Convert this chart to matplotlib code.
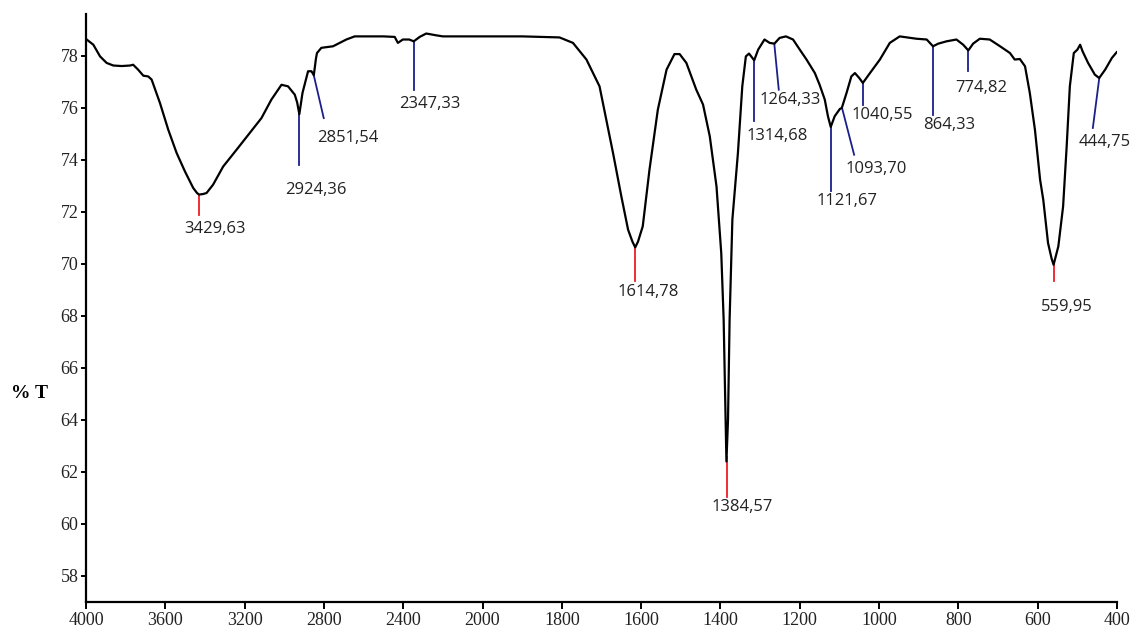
import numpy as np
import matplotlib
matplotlib.use("Agg")
import matplotlib.pyplot as plt

# IR spectrum (wavenumber cm-1, %T)
wavenumber = [4000, 3963, 3929, 3896, 3862, 3820, 3778, 3762, 3737, 3711, 3686, 3669,
              3627, 3585, 3543, 3501, 3459, 3440, 3430, 3410, 3392, 3359, 3308, 3241,
              3174, 3115, 3065, 3014, 2981, 2947, 2935, 2924, 2915, 2908, 2880, 2863,
              2851, 2840, 2835, 2813, 2754, 2687, 2645, 2600, 2500, 2443, 2427, 2402,
              2370, 2347, 2317, 2284, 2233, 2200, 2100, 2000, 1900, 1806, 1772, 1738,
              1705, 1688, 1671, 1650, 1633, 1622, 1615, 1608, 1596, 1579, 1558, 1536,
              1516, 1503, 1486, 1461, 1444, 1427, 1410, 1404, 1398, 1392, 1387, 1385,
              1381, 1377, 1370, 1356, 1345, 1336, 1328, 1315, 1305, 1289, 1276, 1264,
              1251, 1235, 1217, 1200, 1183, 1162, 1150, 1137, 1129, 1122, 1112, 1099,
              1094, 1082, 1070, 1061, 1050, 1041, 1023, 998, 973, 948, 906, 880, 864,
              851, 830, 805, 788, 775, 763, 746, 721, 695, 670, 658, 645, 632, 620, 607,
              594, 586, 574, 565, 560, 548, 536, 527, 519, 509, 500, 493, 487, 473, 456,
              445, 430, 413, 401]
transmittance = [78.64, 78.42, 77.97, 77.72, 77.62, 77.60, 77.62, 77.65, 77.46, 77.23, 77.20, 77.08,
                 76.18, 75.15, 74.26, 73.55, 72.91, 72.72, 72.66, 72.68, 72.72, 73.04, 73.74, 74.38,
                 75.03, 75.60, 76.31, 76.88, 76.82, 76.50, 76.20, 75.75, 76.20, 76.57, 77.40, 77.40,
                 77.25, 77.90, 78.10, 78.30, 78.36, 78.62, 78.74, 78.74, 78.74, 78.72, 78.49, 78.62,
                 78.62, 78.55, 78.72, 78.85, 78.78, 78.74, 78.74, 78.74, 78.74, 78.70, 78.49, 77.85,
                 76.82, 75.54, 74.26, 72.59, 71.31, 70.85, 70.63, 70.85, 71.44, 73.62, 75.92, 77.46,
                 78.06, 78.06, 77.72, 76.69, 76.12, 74.90, 72.97, 71.70, 70.40, 67.85, 64.00, 62.40,
                 64.00, 67.85, 71.70, 74.26, 76.82, 77.97, 78.08, 77.82, 78.23, 78.62, 78.49, 78.46,
                 78.68, 78.74, 78.62, 78.23, 77.85, 77.33, 76.88, 76.31, 75.67, 75.26, 75.67, 75.95,
                 75.99, 76.57, 77.20, 77.33, 77.14, 76.95, 77.33, 77.85, 78.49, 78.74, 78.65, 78.62, 78.36,
                 78.46, 78.55, 78.62, 78.42, 78.20, 78.46, 78.65, 78.62, 78.36, 78.10, 77.85, 77.87, 77.59, 76.57, 75.15,
                 73.23, 72.46, 70.80, 70.20, 69.96, 70.67, 72.20, 74.51, 76.82, 78.10, 78.23, 78.42, 78.17, 77.72, 77.27,
                 77.14, 77.46, 77.91, 78.13]

peak_wn = [3429.63, 2924.36, 2851.54, 2347.33, 1614.78, 1384.57, 1314.68, 1264.33,
           1121.67, 1093.70, 1040.55, 864.33, 774.82, 444.75, 559.95]
peak_labels = ["3429,63", "2924,36", "2851,54", "2347,33", "1614,78", "1384,57", "1314,68",
               "1264,33", "1121,67", "1093,70", "1040,55", "864,33", "774,82", "444,75", "559,95"]
strong = ["3429,63", "1614,78", "1384,57", "559,95"]

# where each marker line ends and where its label sits (x, y, text x, text y)
label_layout = [(3429.63, 71.88, 3350, 71.33), (2924.36, 73.8, 2841, 72.83),
                (2801, 75.6, 2680, 74.85), (2347.33, 76.69, 2267, 76.15),
                (1614.78, 69.32, 1581, 68.9), (1384.57, 61.05, 1346, 60.67),
                (1314.68, 75.47, 1258, 74.93), (1253, 76.69, 1223, 76.3),
                (1121.67, 72.78, 1082, 72.4), (1063, 74.19, 1008, 73.66),
                (1040.55, 76.12, 993, 75.73), (864.33, 75.73, 824, 75.32),
                (774.82, 77.4, 743, 76.74), (461, 75.22, 432, 74.67),
                (559.95, 69.32, 527, 68.33)]

x_ticks = [4000, 3600, 3200, 2800, 2400, 2000, 1800, 1600, 1400, 1200, 1000, 800, 600, 400]
y_ticks = [58, 60, 62, 64, 66, 68, 70, 72, 74, 76, 78]


def fwd(w):
    w = np.asarray(w, dtype=float)
    return np.where(w > 2000, 2000 + (w - 2000) / 2.0, w)


def inv(t):
    t = np.asarray(t, dtype=float)
    return np.where(t > 2000, 2000 + (t - 2000) * 2.0, t)


fig = plt.figure(figsize=(11.36, 6.34), dpi=100)
ax = fig.add_axes([0.0757, 0.0505, 0.9076, 0.9274])
ax.set_xscale("function", functions=(fwd, inv))

ax.plot(wavenumber, transmittance, color="black", lw=1.6, zorder=3)

wn_up = np.array(wavenumber[::-1], dtype=float)
tr_up = np.array(transmittance[::-1], dtype=float)
for wn, lab, (xe, ye, tx, ty) in zip(peak_wn, peak_labels, label_layout):
    top = np.interp(wn, wn_up, tr_up)
    col = "#ee1c25" if lab in strong else "#1b1f8a"
    ax.plot([wn, xe], [top, ye], color=col, lw=1.3, zorder=2)
    ax.text(tx, ty, lab, ha="center", va="center", fontsize=12,
            family="Open Sans", color="#222222")

ax.set_xlim(4000, 400)
ax.set_ylim(57.0, 79.6)
ax.set_xticks(x_ticks)
ax.set_xticklabels([str(v) for v in x_ticks])
ax.set_yticks(y_ticks)
ax.minorticks_off()

for s in ["top", "right"]:
    ax.spines[s].set_visible(False)
for s in ["left", "bottom"]:
    ax.spines[s].set_linewidth(1.6)

ax.tick_params(axis="x", direction="out", length=5, width=1.4, pad=2)
ax.tick_params(axis="y", direction="out", length=3.5, width=1.4, pad=2)
for t in ax.get_xticklabels() + ax.get_yticklabels():
    t.set_family("Liberation Serif")
    t.set_fontsize(13)
    t.set_color("#222222")

fig.text(0.0264, 0.380, "% T", ha="center", va="center", fontsize=14,
         family="Liberation Serif", fontweight="bold")

fig.savefig("out.png", dpi=100)
